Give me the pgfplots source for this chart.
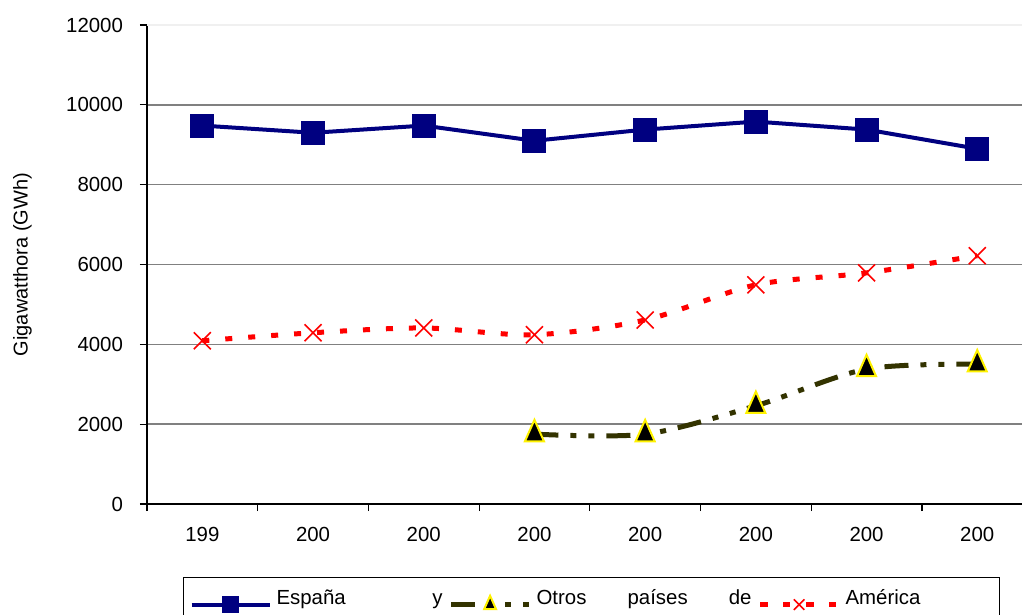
\documentclass[border=0pt]{standalone}
\usepackage{fontspec}
\setmainfont{Liberation Sans}
\usepackage{pgfplots}
\pgfplotsset{compat=1.18}

\definecolor{espana}{RGB}{0,0,128}
\definecolor{otros}{RGB}{51,51,0}
\definecolor{america}{RGB}{255,0,0}
\definecolor{gridgray}{RGB}{128,128,128}

\newcommand{\chartfont}{\fontsize{10.2}{12}\selectfont}

\begin{document}
\begin{tikzpicture}
% visible window of the chart (plot area starts at the origin)
\path[use as bounding box] (-73.5pt,-55.5pt) rectangle (437.5pt,252pt);
\clip (-73.5pt,-55.5pt) rectangle (437.5pt,252pt);
\begin{axis}[
  at={(0pt,0pt)}, anchor=south west,
  scale only axis,
  width=442.8pt, height=239.5pt,
  xmin=-0.5, xmax=7.5,
  ymin=0, ymax=12000,
  axis x line*=bottom, axis y line*=left,
  axis line style={-, black, line width=0.6pt},
  tick align=outside,
  major tick length=3.5pt,
  tick style={black, line width=0.6pt},
  xtick={-0.5,0.5,...,7.5},
  xticklabels={,,,,,,,,},
  extra x ticks={0,1,2,3,4,5,6,7},
  extra x tick labels={199,200,200,200,200,200,200,200},
  extra x tick style={major tick length=0pt, grid=none},
  xticklabel style={font=\chartfont, yshift=-8pt},
  ytick={0,2000,4000,6000,8000,10000},
  extra y ticks={12000},
  extra y tick style={grid style={gray!12, line width=0.6pt}},
  scaled y ticks=false,
  ymajorgrids,
  grid style={gridgray, line width=0.75pt},
  yticklabel style={font=\chartfont, xshift=-5pt},
  /pgf/number format/1000 sep={},
  /pgf/number format/assume math mode=true,
  ylabel={Gigawatthora (GWh)},
  ylabel style={font=\fontsize{8.8}{10}\selectfont},
  every axis y label/.style={at={(-62.3pt,119.75pt)}, rotate=90, anchor=center},
  legend columns=3,
  legend image code/.code={%
    \draw[mark repeat=2, mark phase=2, #1, every mark/.append style={scale=0.62}]
      plot coordinates {(0pt,0pt) (19.5pt,0pt) (39pt,0pt)};},
  legend style={
    at={(18pt,-36.5pt)}, anchor=north west,
    draw=black, line width=0.6pt,
    font=\chartfont,
    inner xsep=3pt, inner ysep=6pt,
    nodes={inner sep=0pt, anchor=base west},
    /tikz/every odd column/.append style={column sep=2.5pt},
    /tikz/every even column/.append style={column sep=3pt},
  },
  legend cell align=left,
]
% España
\addplot[color=espana, line width=2pt, mark=square*, mark size=5pt,
         mark options={solid, fill=espana}]
  coordinates {(0,9480) (1,9300) (2,9480) (3,9100) (4,9380) (5,9580) (6,9380) (7,8900)};
\addlegendentry{\hbox to 83pt{España\hfill y}}
% Otros países de América
\addplot[color=otros, line width=2.5pt, smooth,
         dash pattern=on 12pt off 6pt on 3pt off 6pt on 3pt off 6pt,
         mark=triangle*, mark size=5.5pt,
         mark options={solid, fill=black, draw=yellow, line width=1pt, yscale=1.3}]
  coordinates {(3,1750) (4,1750) (5,2460) (6,3380) (7,3500)};
\addlegendentry{\hbox to 107.5pt{Otros\hfill países\hfill de}}
% América
\addplot[color=america, line width=2.5pt, smooth,
         dash pattern=on 3.5pt off 8pt,
         mark=x, mark size=6pt,
         mark options={solid, line width=0.8pt}]
  coordinates {(0,4090) (1,4290) (2,4410) (3,4240) (4,4610) (5,5490) (6,5790) (7,6220)};
\addlegendentry{\hbox to 74pt{América\hfill}}
\end{axis}
\end{tikzpicture}
\end{document}
